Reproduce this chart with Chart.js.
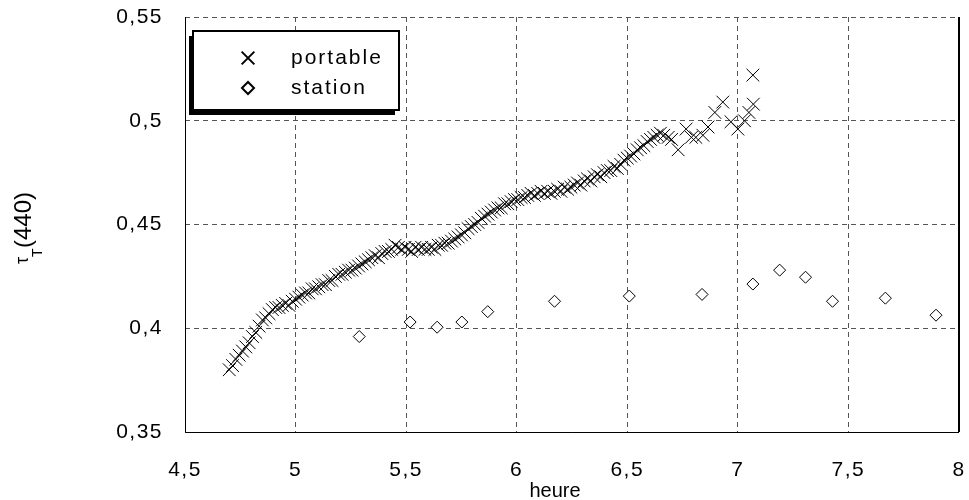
<!DOCTYPE html>
<html><head><meta charset="utf-8">
<script src="https://cdn.jsdelivr.net/npm/chart.js@4/dist/chart.umd.min.js"></script>
<style>html,body{margin:0;padding:0;background:#fff}#wrap{width:969px;height:500px}</style>
</head><body><div id="wrap"><canvas id="c" width="969" height="500"></canvas></div>
<script>
const xTicks = [4.5, 5, 5.5, 6, 6.5, 7, 7.5, 8];
const yTicks = [0.35, 0.4, 0.45, 0.5, 0.55];
const seriesNames = ['portable', 'station'];
const xTitle = 'heure';
const yTitleMain = 'τ', yTitleSub = 'T', yTitleRest = '(440)';

const portableX = [4.700,4.715,4.730,4.745,4.760,4.775,4.790,4.805,4.820,4.835,4.850,4.865,4.880,4.895,4.910,4.925,4.940,4.955,4.970,4.985,
5.000,5.015,5.030,5.045,5.060,5.075,5.090,5.105,5.120,5.135,5.150,5.165,5.180,5.195,5.210,5.225,5.240,5.255,5.270,5.285,
5.300,5.315,5.330,5.345,5.360,5.375,5.390,5.405,5.420,5.435,5.450,5.465,5.480,5.495,5.510,5.525,5.540,5.555,5.570,5.585,
5.600,5.615,5.630,5.645,5.660,5.675,5.690,5.705,5.720,5.735,5.750,5.765,5.780,5.795,5.810,5.825,5.840,5.855,5.870,5.885,
5.900,5.915,5.930,5.945,5.960,5.975,5.990,6.005,6.020,6.035,6.050,6.065,6.080,6.095,6.110,6.125,6.140,6.155,6.170,6.185,
6.200,6.215,6.230,6.245,6.260,6.275,6.290,6.305,6.320,6.335,6.350,6.365,6.380,6.395,6.410,6.425,6.440,6.455,6.470,6.485,
6.500,6.515,6.530,6.545,6.560,6.575,6.590,6.605,6.620,6.635,6.650,
6.665,6.685,6.700,6.730,6.766,6.790,6.810,6.842,6.865,6.896,6.932,6.969,7.000,7.030,7.050,7.070,7.068];
const portableY = [0.380,0.382,0.385,0.387,0.389,0.391,0.393,0.396,0.398,0.401,0.404,0.405,0.407,0.409,0.410,0.410,0.411,0.412,0.411,0.413,
0.414,0.415,0.416,0.417,0.417,0.419,0.419,0.420,0.421,0.421,0.423,0.423,0.425,0.426,0.426,0.427,0.428,0.428,0.429,0.430,
0.431,0.432,0.433,0.434,0.435,0.434,0.436,0.437,0.437,0.438,0.440,0.439,0.438,0.439,0.438,0.437,0.439,0.438,0.439,0.438,
0.438,0.439,0.438,0.440,0.440,0.441,0.441,0.442,0.443,0.444,0.445,0.446,0.448,0.449,0.450,0.451,0.453,0.454,0.455,0.456,
0.457,0.458,0.458,0.460,0.460,0.461,0.462,0.462,0.463,0.463,0.464,0.465,0.464,0.465,0.466,0.465,0.466,0.465,0.466,0.467,
0.466,0.468,0.467,0.468,0.469,0.470,0.469,0.471,0.472,0.471,0.473,0.474,0.473,0.475,0.476,0.476,0.478,0.477,0.479,0.481,
0.482,0.483,0.484,0.486,0.487,0.488,0.490,0.491,0.492,0.493,0.494,
0.493,0.492,0.491,0.486,0.496,0.492,0.492,0.493,0.497,0.504,0.509,0.4995,0.496,0.500,0.504,0.508,0.522];

const stationX = [5.288,5.518,5.640,5.752,5.869,6.171,6.509,6.838,7.068,7.189,7.306,7.428,7.667,7.896];
const stationY = [0.396,0.403,0.4005,0.403,0.408,0.413,0.4155,0.4163,0.4213,0.428,0.4246,0.413,0.4145,0.4063];

const FONT = "'Liberation Sans', Arial, sans-serif";
const fmt = v => String(Math.round(v * 100) / 100).replace('.', ',');

const spacingPlugin = {
  id: 'spacing',
  beforeDraw(chart) { chart.ctx.letterSpacing = '1.5px'; }
};

const framePlugin = {
  id: 'frame',
  afterDatasetsDraw(chart) {
    const {ctx, chartArea: a} = chart;
    ctx.save();
    ctx.setLineDash([]);
    ctx.strokeStyle = '#000';
    ctx.lineWidth = 1;
    ctx.beginPath();
    ctx.moveTo(Math.round(a.left) + 0.5, a.top);
    ctx.lineTo(Math.round(a.left) + 0.5, Math.round(a.bottom) + 0.5);
    ctx.lineTo(a.right, Math.round(a.bottom) + 0.5);
    ctx.stroke();
    ctx.lineWidth = 2;
    ctx.beginPath();
    ctx.moveTo(a.right, a.top); ctx.lineTo(a.right, a.bottom);
    ctx.stroke();
    ctx.restore();
  }
};

const legendPlugin = {
  id: 'customLegend',
  afterDraw(chart) {
    const ctx = chart.ctx;
    const L = 193, T = 31, W = 206, H = 79;
    ctx.save();
    ctx.setLineDash([]);
    ctx.fillStyle = '#000';
    ctx.fillRect(L - 4, T + 5, W, H);
    ctx.fillStyle = '#fff';
    ctx.fillRect(L, T, W, H);
    ctx.strokeStyle = '#000';
    ctx.lineWidth = 2;
    ctx.strokeRect(L, T, W, H);
    ctx.letterSpacing = '2px';
    ctx.font = '21px ' + FONT;
    ctx.textBaseline = 'middle';
    chart.data.datasets.forEach((ds, i) => {
      const cy = T + 27 + i * 30;
      ctx.strokeStyle = '#000';
      ctx.fillStyle = '#fff';
      Chart.helpers.drawPoint(ctx, {pointStyle: ds.pointStyle, radius: ds.pointRadius, borderWidth: 1}, 248, cy);
      ctx.fillStyle = '#000';
      ctx.fillText(ds.label, 291, cy);
    });
    ctx.restore();
  }
};

const titlePlugin = {
  id: 'axisTitles',
  afterDraw(chart) {
    const ctx = chart.ctx;
    ctx.save();
    ctx.fillStyle = '#000';
    ctx.letterSpacing = '0px';
    ctx.font = '20px ' + FONT;
    ctx.textAlign = 'center';
    ctx.textBaseline = 'middle';
    ctx.fillText(xTitle, 555, 491);
    ctx.translate(31, 265);
    ctx.rotate(-Math.PI / 2);
    ctx.textAlign = 'left';
    ctx.textBaseline = 'alphabetic';
    ctx.font = '18px ' + FONT;
    ctx.fillText(yTitleMain, 1, -3);
    ctx.font = '14px ' + FONT;
    ctx.fillText(yTitleSub, 8, 11);
    ctx.font = '24px ' + FONT;
    ctx.fillText(yTitleRest, 17, 0);
    ctx.restore();
  }
};

new Chart(document.getElementById('c'), {
  type: 'scatter',
  data: {
    datasets: [
      {
        label: seriesNames[0],
        data: portableX.map((x, i) => ({x, y: portableY[i]})),
        pointStyle: 'crossRot', pointRadius: 9, pointBorderWidth: 1,
        borderColor: '#000', backgroundColor: '#000'
      },
      {
        label: seriesNames[1],
        data: stationX.map((x, i) => ({x, y: stationY[i]})),
        pointStyle: 'rectRot', pointRadius: 6, pointBorderWidth: 1,
        borderColor: '#000', backgroundColor: '#fff'
      }
    ]
  },
  options: {
    responsive: false,
    animation: false,
    layout: {padding: {top: 17, right: 7, left: 0, bottom: 0}},
    plugins: {legend: {display: false}, tooltip: {enabled: false}},
    scales: {
      x: {
        type: 'linear', min: xTicks[0], max: xTicks[xTicks.length - 1],
        afterBuildTicks: s => { s.ticks = xTicks.map(v => ({value: v})); },
        afterFit: s => { s.height = 68; s.paddingLeft = 0; s.paddingRight = 0; },
        ticks: {callback: v => fmt(v), color: '#000', font: {family: FONT, size: 21}, padding: 26, maxRotation: 0},
        grid: {color: '#555', lineWidth: 1, drawTicks: false},
        border: {display: false, dash: [5, 4]}
      },
      y: {
        type: 'linear', min: yTicks[0], max: yTicks[yTicks.length - 1],
        afterBuildTicks: s => { s.ticks = yTicks.map(v => ({value: v})); },
        afterFit: s => { s.width = 185; s.paddingTop = 0; s.paddingBottom = 0; },
        ticks: {callback: v => fmt(v), color: '#000', font: {family: FONT, size: 21}, padding: 22},
        grid: {color: '#555', lineWidth: 1, drawTicks: false},
        border: {display: false, dash: [5, 4]}
      }
    }
  },
  plugins: [spacingPlugin, framePlugin, legendPlugin, titlePlugin]
});
</script>
</body></html>
